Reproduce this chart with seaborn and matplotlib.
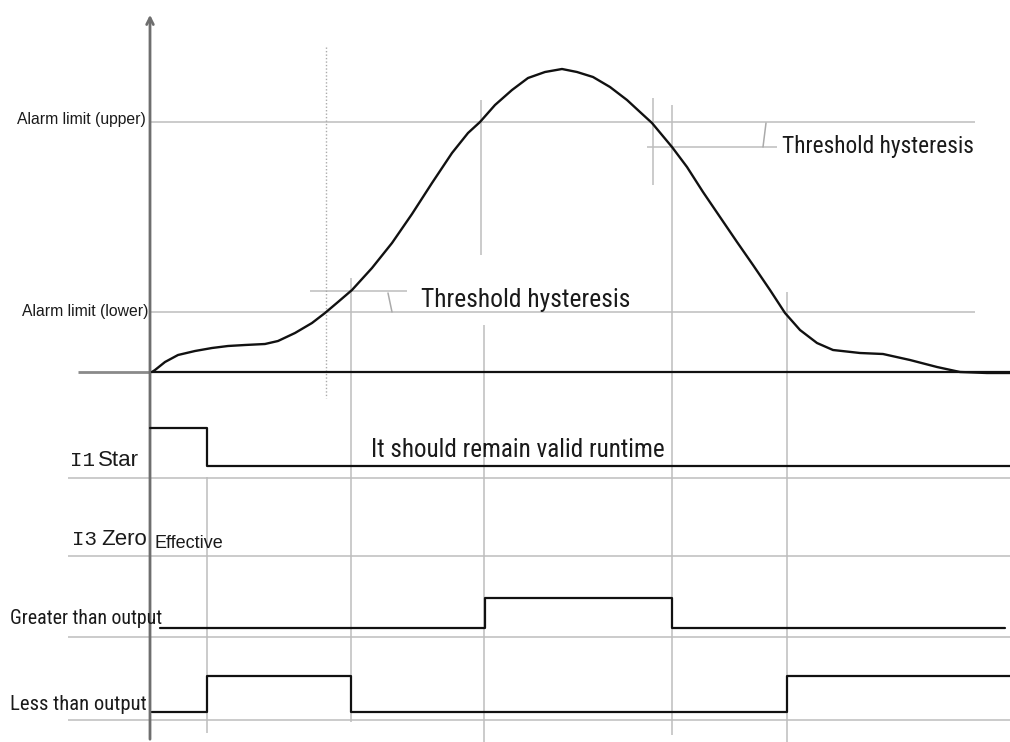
import os
import matplotlib
matplotlib.use("Agg")
import matplotlib.pyplot as plt
import seaborn as sns
import numpy as np
import pandas as pd
from matplotlib import font_manager as fm

# ---------------- data ----------------
curve_x = [152, 155, 165, 178, 195, 212, 228, 245, 265, 278, 295, 312, 325, 338,
           352, 372, 392, 412, 432, 452, 468, 480, 495, 512, 528, 545, 562,
           577, 593, 610, 627, 640, 652, 672, 687, 703, 720, 737, 753, 770,
           785, 800, 817, 833, 860, 883, 910, 937, 960, 987, 1010]
curve_y = [372, 370, 362, 355, 351, 348, 346, 345, 344, 341, 333, 323, 313, 302,
           290, 268, 243, 214, 183, 153, 133, 122, 105, 90, 78, 72, 69,
           72, 77, 87, 100, 112, 123, 147, 167, 192, 217, 242, 265, 290,
           313, 330, 343, 350, 353, 354, 360, 367, 372, 373, 373]

i1_t = [150, 207, 1010]
i1_level = [1, 0, 0]
gt_t = [160, 485, 672, 1005]
gt_level = [0, 1, 0, 0]
lt_t = [152, 207, 351, 787, 1010]
lt_level = [0, 1, 0, 1, 1]

alarm_upper = 122
alarm_lower = 312
hyst_upper = 147
hyst_lower = 291
zero_level = 372

row_labels = ["I1", "I3", "Greater than output", "Less than output"]

# ---------------- style ----------------
sns.set_style("white")
plt.rcParams["font.family"] = ["Liberation Sans", "DejaVu Sans"]


def find_narrow():
    prefs = ["liberation", "arial", "roboto", "open sans", "noto sans", "lato", "inter", "dejavu sans"]
    best = None
    for f in fm.fontManager.ttflist:
        nm = f.name.lower()
        fn = os.path.basename(f.fname).lower()
        st = str(f.stretch).lower()
        narrow = ("narrow" in nm or "condensed" in nm or "narrow" in fn
                  or "condensed" in fn or "condensed" in st)
        if not narrow:
            continue
        if f.style != "normal" or any(k in fn for k in ("bold", "italic", "oblique", "light", "mono", "serif", "black", "thin", "medium", "semi")):
            continue
        if "extra" in st or "ultra" in st:
            continue
        rank = len(prefs)
        for i, p in enumerate(prefs):
            if nm.startswith(p):
                rank = i
                break
        if best is None or rank < best[0]:
            best = (rank, f.fname)
    return best[1] if best else None


narrow_file = find_narrow()


def nprop(size):
    if narrow_file:
        return fm.FontProperties(fname=narrow_file, size=size)
    return fm.FontProperties(family="Liberation Sans", size=size)


GRID = "#bdbdbd"
TXT = "#1a1a1a"

fig = plt.figure(figsize=(10.1, 7.42), dpi=100)
ax = fig.add_axes([0, 0, 1, 1])
ax.set_xlim(0, 1010)
ax.set_ylim(742, 0)
ax.axis("off")
renderer = fig.canvas.get_renderer()


def fit_text(x, y, s, target_w, size, **kw):
    t = ax.text(x, y, s, fontproperties=nprop(size), ha="left", va="baseline", color=TXT, **kw)
    w = t.get_window_extent(renderer).width
    if w > 0:
        t.set_fontproperties(nprop(min(size * 1.08, size * target_w / w)))
    return t


# gray reference lines
ax.hlines(alarm_upper, 150, 975, color=GRID, lw=1.1, zorder=1)
ax.hlines(alarm_lower, 150, 975, color=GRID, lw=1.1, zorder=1)
ax.hlines(hyst_lower, 310, 407, color=GRID, lw=1.1, zorder=1)
ax.hlines(hyst_upper, 647, 777, color=GRID, lw=1.1, zorder=1)
ax.plot([388, 392], [293, 312], color="#aaaaaa", lw=1.1, zorder=1)
ax.plot([766, 763], [123, 147], color="#aaaaaa", lw=1.1, zorder=1)

for yy in [478, 556, 637, 720]:
    ax.hlines(yy, 68, 1010, color=GRID, lw=1.1, zorder=1)

ax.vlines(326, 47, 398, color="#aaaaaa", lw=1.0, linestyles=(0, (1, 1.5)), zorder=1)
ax.vlines(351, 278, 722, color=GRID, lw=1.1, zorder=1)
ax.vlines(207, 477, 733, color=GRID, lw=1.1, zorder=1)
ax.vlines(481, 100, 255, color=GRID, lw=1.1, zorder=1)
ax.vlines(484, 325, 742, color=GRID, lw=1.1, zorder=1)
ax.vlines(653, 98, 185, color=GRID, lw=1.1, zorder=1)
ax.vlines(672, 105, 735, color=GRID, lw=1.1, zorder=1)
ax.vlines(787, 292, 742, color=GRID, lw=1.1, zorder=1)

# vertical axis with arrow
ax.annotate("", xy=(150, 12), xytext=(150, 742),
            arrowprops=dict(arrowstyle="->", color="#6e6e6e", lw=2.0, mutation_scale=12),
            zorder=3)

# zero line
ax.hlines(zero_level, 78, 150, color="#8a8a8a", lw=2.0, zorder=2)
ax.hlines(zero_level, 150, 1010, color="#111111", lw=1.6, zorder=2)

# analog curve
sns.lineplot(x=curve_x, y=curve_y, sort=False, estimator=None,
             color="#111111", lw=1.7, ax=ax, zorder=4)


# digital signals
def rows(lev, low, high):
    return [low - l * (low - high) for l in lev]


for t, lev, lo, hi in [(i1_t, i1_level, 466, 428),
                       (gt_t, gt_level, 628, 598),
                       (lt_t, lt_level, 712, 676)]:
    sns.lineplot(x=t, y=rows(lev, lo, hi), sort=False, estimator=None,
                 drawstyle="steps-post", color="#111111", lw=1.6, ax=ax, zorder=4)
ax.axis("off")

# texts
ax.text(146, 124, "Alarm limit (upper)", ha="right", va="baseline", fontsize=11.3, color=TXT)
ax.text(148, 316, "Alarm limit (lower)", ha="right", va="baseline", fontsize=11.3, color=TXT)
fit_text(421, 307, "Threshold hysteresis", 209, 20)
fit_text(782, 153, "Threshold hysteresis", 192, 20)
fit_text(371, 457, "It should remain valid runtime", 294, 20)
fit_text(10, 624, row_labels[2], 152, 15.5)
fit_text(10, 710, row_labels[3], 137, 16)

ax.text(70, 466, row_labels[0], ha="left", va="baseline", fontsize=15,
        family="Liberation Mono", color=TXT)
ax.text(98, 466, "Star", ha="left", va="baseline", fontsize=16, color=TXT)
ax.text(72, 545, row_labels[1], ha="left", va="baseline", fontsize=15,
        family="Liberation Mono", color=TXT)
ax.text(101, 545, "Zero", ha="left", va="baseline", fontsize=16, color=TXT)
ax.text(154, 548, "Effective", ha="left", va="baseline", fontsize=13, color=TXT)

fig.savefig("out.png", dpi=100)
